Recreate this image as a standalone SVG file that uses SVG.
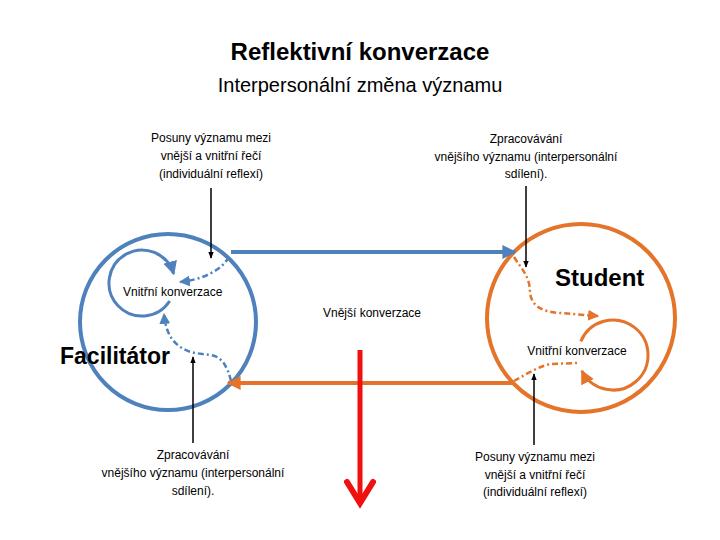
<svg xmlns="http://www.w3.org/2000/svg" width="720" height="540" viewBox="0 0 720 540">
<style>
text{font-family:"Liberation Sans",Arial,sans-serif;fill:#000}
.t{font-size:12px;text-anchor:middle}
.blue{fill:none;stroke:#4F81BD}
.orange{fill:none;stroke:#E3742A}
.dot{stroke-width:2.5;stroke-dasharray:6 3 2 3}
.blk{stroke:#000;stroke-width:1.5;fill:none}
</style>
<defs>
<marker id="ab" markerUnits="userSpaceOnUse" markerWidth="14" markerHeight="14" viewBox="0 0 10 10" refX="9" refY="5" orient="auto"><path d="M0,0 L10,5 L0,10 z" fill="#4F81BD"/></marker>
<marker id="ao" markerUnits="userSpaceOnUse" markerWidth="14" markerHeight="14" viewBox="0 0 10 10" refX="9" refY="5" orient="auto"><path d="M0,0 L10,5 L0,10 z" fill="#E3742A"/></marker>
<marker id="abs" markerUnits="userSpaceOnUse" markerWidth="11" markerHeight="11" viewBox="0 0 10 10" refX="9" refY="5" orient="auto"><path d="M0,0 L10,5 L0,10 z" fill="#4F81BD"/></marker>
<marker id="aos" markerUnits="userSpaceOnUse" markerWidth="11" markerHeight="11" viewBox="0 0 10 10" refX="9" refY="5" orient="auto"><path d="M0,0 L10,5 L0,10 z" fill="#E3742A"/></marker>
<marker id="ak" markerUnits="userSpaceOnUse" markerWidth="7" markerHeight="8" viewBox="0 0 10 10" refX="9" refY="5" orient="auto"><path d="M0,1 L10,5 L0,9 z" fill="#000"/></marker>
</defs>

<g id="title">
<text x="360" y="60" font-size="24" font-weight="bold" text-anchor="middle">Reflektivní konverzace</text>
<text x="360" y="92" font-size="20" text-anchor="middle">Interpersonální změna významu</text>
</g>

<g id="facilitator">
<circle class="blue" cx="168" cy="322" r="88" stroke-width="4"/>
<text x="60" y="364" font-size="23" font-weight="bold">Facilitátor</text>
<path class="blue" stroke-width="3" d="M169.7,301 A33,33 0 1 1 173.7,273.9" marker-end="url(#ab)"/>
<text x="123" y="296" font-size="12">Vnitřní konverzace</text>
</g>

<g id="student">
<circle class="orange" cx="581" cy="318" r="94" stroke-width="4"/>
<text x="555" y="286" font-size="24" font-weight="bold">Student</text>
<path class="orange" stroke-width="3" d="M580.8,341.3 A35,35 0 1 1 581.8,370.9" marker-end="url(#ao)"/>
<text x="577" y="355" font-size="12" text-anchor="middle">Vnitřní konverzace</text>
</g>

<g id="labels">
<text class="t" x="211" y="142">Posuny významu mezi</text>
<text class="t" x="211" y="160">vnější a vnitřní řečí</text>
<text class="t" x="211" y="178">(individuální reflexí)</text>
<text class="t" x="526" y="143">Zpracovávání</text>
<text class="t" x="526" y="161">vnějšího významu (interpersonální</text>
<text class="t" x="526" y="178">sdílení).</text>
<text class="t" x="193" y="459">Zpracovávání</text>
<text class="t" x="193" y="477">vnějšího významu (interpersonální</text>
<text class="t" x="193" y="495">sdílení).</text>
<text class="t" x="535" y="461">Posuny významu mezi</text>
<text class="t" x="535" y="479">vnější a vnitřní řečí</text>
<text class="t" x="535" y="496">(individuální reflexí)</text>
<text class="t" x="372" y="317">Vnější konverzace</text>
</g>

<g id="connectors">
<line class="blue" x1="231" y1="252" x2="515" y2="252" stroke-width="4" marker-end="url(#ab)"/>
<line class="orange" x1="513" y1="383" x2="228" y2="383" stroke-width="4" marker-end="url(#ao)"/>
<path class="blue dot" d="M229,257 C220,272 200,280 180,282" marker-end="url(#abs)"/>
<path class="blue dot" d="M231,381 C227,365 221,356 210,355 L195,353 C180,350 166,340 164,314" marker-end="url(#abs)"/>
<path class="orange dot" d="M514,257 C522,270 530,276 530,293 C532,308 545,312 560,313 L598,316" marker-end="url(#aos)"/>
<path class="orange dot" d="M514,381 C525,375 535,368 550,364 L578,363"/>
<line class="blk" x1="211" y1="188" x2="211" y2="258" marker-end="url(#ak)"/>
<line class="blk" x1="526" y1="186" x2="526" y2="267" marker-end="url(#ak)"/>
<line class="blk" x1="193" y1="443" x2="193" y2="357" marker-end="url(#ak)"/>
<line class="blk" x1="534" y1="445" x2="534" y2="374" marker-end="url(#ak)"/>
<line x1="360" y1="350" x2="360" y2="500" stroke="#F01010" stroke-width="5"/>
<polyline points="347,482 360,503 373,482" fill="none" stroke="#F01010" stroke-width="6" stroke-linecap="round"/>
</g>
</svg>
